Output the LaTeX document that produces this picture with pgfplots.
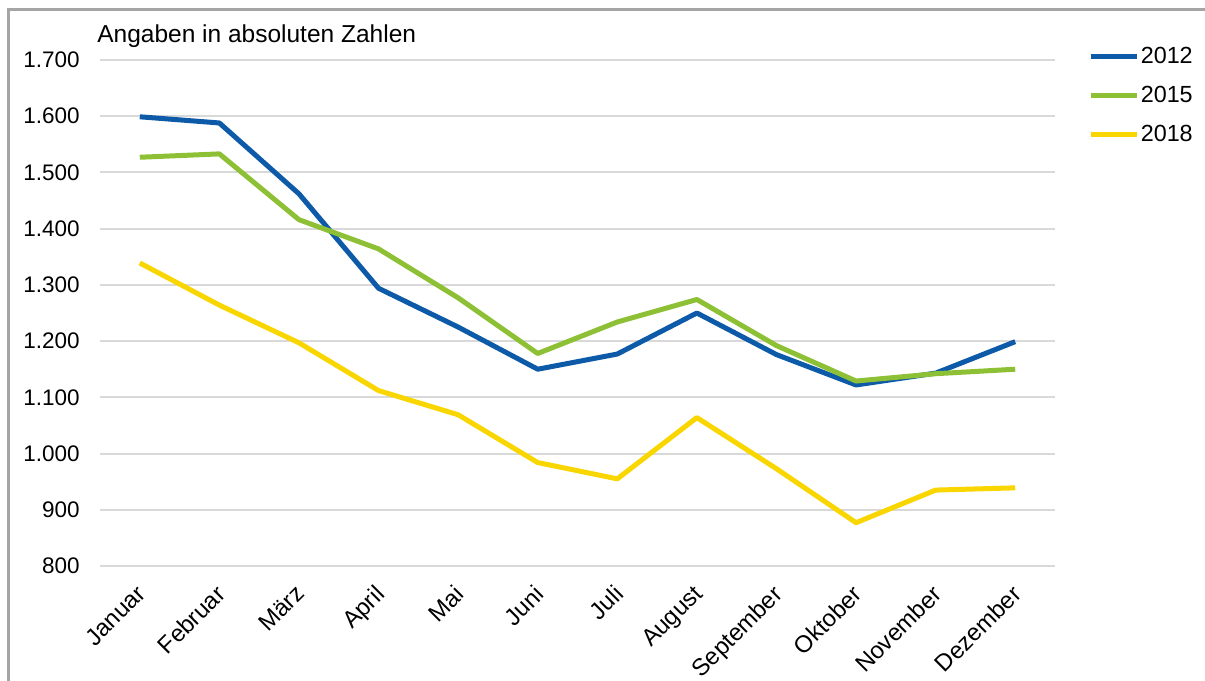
\documentclass[border=0pt]{standalone}
\usepackage{pgfplots}
\pgfplotsset{compat=1.18}
\usepackage{fontspec}
\setmainfont{Liberation Sans}
\definecolor{c2012}{RGB}{12,90,168}
\definecolor{c2015}{RGB}{141,192,52}
\definecolor{c2018}{RGB}{250,214,0}
\definecolor{gridc}{RGB}{217,217,217}
\definecolor{framec}{RGB}{165,165,165}
\begin{document}
\begin{tikzpicture}
\useasboundingbox (0,0) rectangle (723pt,408.6pt);
\draw[framec, line width=1.8pt] (4.8pt,0) -- (4.8pt,402.6pt) -- (723pt,402.6pt);
\node[anchor=base west, inner sep=0pt, font=\fontsize{14.7}{17}\selectfont] at (58.2pt,382.8pt) {Angaben in absoluten Zahlen};
\begin{axis}[
  at={(60pt,69pt)}, anchor=south west,
  scale only axis, width=573pt, height=303.6pt,
  xmin=-0.5, xmax=11.5, ymin=800, ymax=1700,
  axis line style={draw=none},
  major tick length=0pt,
  xtick={0,...,11},
  xticklabels={Januar,Februar,März,April,Mai,Juni,Juli,August,September,Oktober,November,Dezember},
  ytick={800,900,...,1700},
  ymajorgrids, grid style={gridc, line width=1.2pt},
  /pgf/number format/.cd, 1000 sep={.}, assume math mode=true,
  /pgfplots/.cd,
  yticklabel style={font=\fontsize{13.5}{16}\selectfont, anchor=east, inner sep=0pt, xshift=-12pt},
  xticklabel style={font=\fontsize{14.3}{17}\selectfont, rotate=45, anchor=north east, inner sep=0pt, xshift=-9.4pt, yshift=-5.4pt},
  legend style={draw=none, fill=none, at={(axis description cs:1.030,1.034)}, anchor=north west,
    font=\fontsize{14}{16}\selectfont, row sep=11pt, nodes={inner sep=0.5pt}},
  legend cell align=left,
  legend image code/.code={\draw[#1, line width=3pt] (0pt,0pt) -- (27.6pt,0pt);},
]
\addplot[c2012, line width=3pt, line join=round] coordinates {
(0,1599) (1,1588) (2,1462) (3,1294) (4,1225) (5,1150) (6,1177) (7,1250) (8,1176) (9,1122) (10,1143) (11,1199)};
\addlegendentry{2012}
\addplot[c2015, line width=3pt, line join=round] coordinates {
(0,1527) (1,1533) (2,1416) (3,1364) (4,1277) (5,1178) (6,1234) (7,1274) (8,1192) (9,1129) (10,1142) (11,1150)};
\addlegendentry{2015}
\addplot[c2018, line width=3pt, line join=round] coordinates {
(0,1339) (1,1264) (2,1197) (3,1112) (4,1069) (5,984) (6,955) (7,1064) (8,973) (9,877) (10,935) (11,939)};
\addlegendentry{2018}
\end{axis}
\end{tikzpicture}
\end{document}
